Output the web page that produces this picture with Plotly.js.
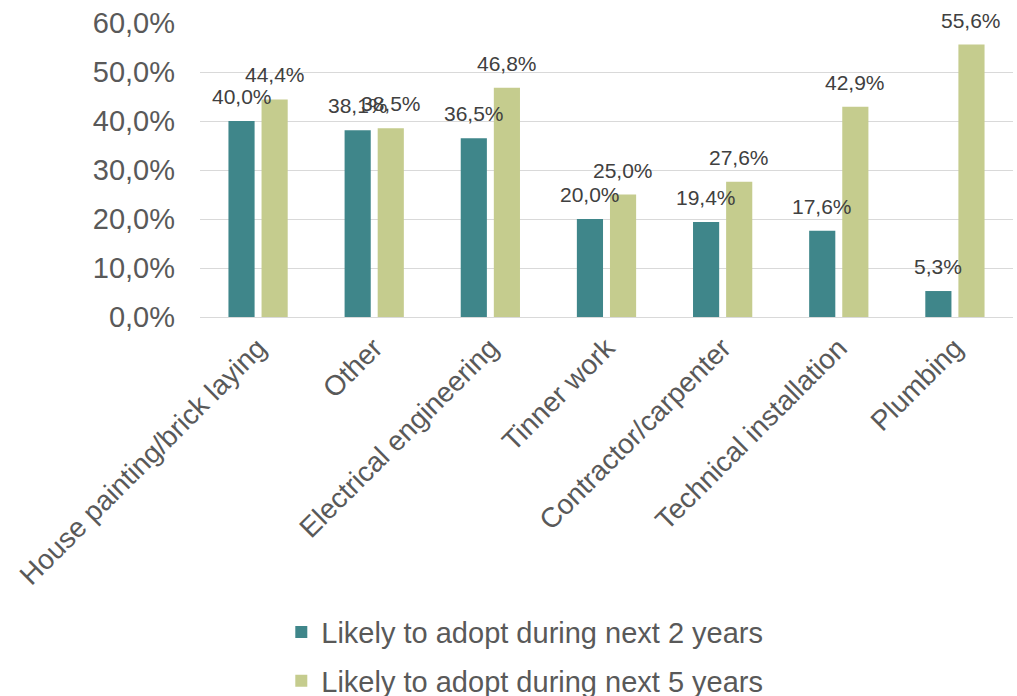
<!DOCTYPE html>
<html><head><meta charset="utf-8">
<script src="https://cdn.plot.ly/plotly-3.0.1.min.js"></script>
<style>html,body{margin:0;padding:0;background:#fff}#chart{width:1017px;height:696px}</style>
</head><body><div id="chart"></div>
<script>
const categories = ["House painting/brick laying","Other","Electrical engineering","Tinner work","Contractor/carpenter","Technical installation","Plumbing"];
const seriesNames = ["Likely to adopt during next 2 years","Likely to adopt during next 5 years"];
const values2y = [40.0, 38.1, 36.5, 20.0, 19.4, 17.6, 5.3];
const values5y = [44.4, 38.5, 46.8, 25.0, 27.6, 42.9, 55.6];
const colors = ["#3F868A", "#C5CC8E"];

function fmt(v){ return v.toFixed(1).replace('.', ',') + '%'; }

const traces = [values2y, values5y].map((vals, i) => ({
  type: 'bar', name: seriesNames[i], x: categories, y: vals,
  marker: {color: colors[i]}, legendgroup: 'g' + i, hoverinfo: 'none'
}));

const annotations = [];
[values2y, values5y].forEach((vals, i) => {
  vals.forEach((v, j) => {
    annotations.push({
      x: categories[j], y: v, xref: 'x', yref: 'y', text: fmt(v), showarrow: false,
      xshift: i === 0 ? -16.5 : 16.5, yshift: 11, yanchor: 'bottom',
      font: {family: 'Liberation Sans, Arial, sans-serif', size: 21, color: '#404040'}
    });
  });
});

const layout = {
  width: 1017, height: 696,
  margin: {l: 200, r: 4, t: 23, b: 379, autoexpand: false},
  paper_bgcolor: '#fff', plot_bgcolor: '#fff',
  barmode: 'group', bargap: 0.43, bargroupgap: 0.21,
  separators: ',.',
  font: {family: 'Liberation Sans, Arial, sans-serif', color: '#595959'},
  xaxis: {type: 'category', tickangle: -45, tickfont: {size: 28, color: '#595959'}, showgrid: false,
          showline: false, ticks: '', ticklabelstandoff: 8, automargin: false},
  yaxis: {range: [0, 60], dtick: 10, tickformat: '.1f', ticksuffix: '%',
          tickfont: {size: 29, color: '#595959'}, gridcolor: '#D9D9D9', gridwidth: 1,
          zeroline: true, zerolinecolor: '#D9D9D9', zerolinewidth: 1, showline: false,
          ticks: '', ticklen: 0, ticklabelstandoff: 24, automargin: false},
  showlegend: true,
  legend: {orientation: 'v', x: 0.1, xanchor: 'left',
           y: -0.985, yanchor: 'top', traceorder: 'grouped', tracegroupgap: 8,
           font: {size: 29, color: '#595959'}},
  annotations: annotations
};

Plotly.newPlot('chart', traces, layout, {staticPlot: true});
</script></body></html>
